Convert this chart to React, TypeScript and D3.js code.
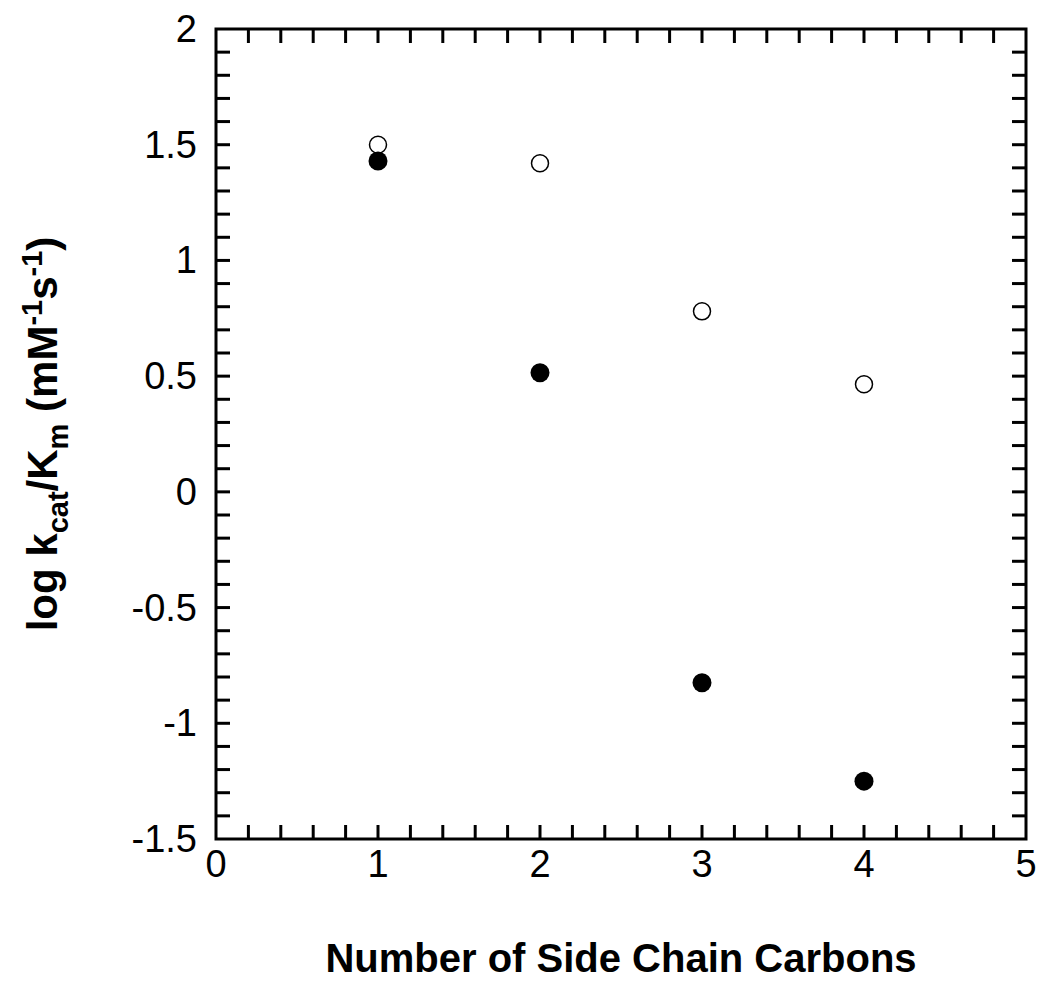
import React from 'react';
import { scaleLinear, range } from 'd3';

// data
const carbons = [1, 2, 3, 4];
const openValues = [1.5, 1.42, 0.78, 0.465];
const filledValues = [1.43, 0.515, -0.825, -1.25];
const xTickLabels = [0, 1, 2, 3, 4, 5];
const yTickLabels = [2, 1.5, 1, 0.5, 0, -0.5, -1, -1.5];

export default function App() {
  const width = 1050;
  const height = 986;
  const margin = { top: 29, right: 24, bottom: 147, left: 216 };
  const innerW = width - margin.left - margin.right;
  const innerH = height - margin.top - margin.bottom;

  const x = scaleLinear().domain([0, 5]).range([margin.left, margin.left + innerW]);
  const y = scaleLinear().domain([-1.5, 2]).range([margin.top + innerH, margin.top]);

  const tickLen = 14;
  const xMinor = range(1, 25).map((i) => i * 0.2);
  const yMinor = range(1, 35).map((i) => -1.5 + i * 0.1);
  const font = 'Liberation Sans, Arial, Helvetica, sans-serif';

  return (
    <svg width={width} height={height} style={{ position: 'absolute', left: 0, top: 0, background: '#fff' }}>
      {/* ticks, inward on all four sides */}
      <g stroke="#000" strokeWidth={3}>
        {xMinor.map((t) => (
          <g key={'x' + t}>
            <line x1={x(t)} x2={x(t)} y1={y(-1.5)} y2={y(-1.5) - tickLen} />
            <line x1={x(t)} x2={x(t)} y1={y(2)} y2={y(2) + tickLen} />
          </g>
        ))}
        {yMinor.map((t) => (
          <g key={'y' + t}>
            <line x1={x(0)} x2={x(0) + tickLen} y1={y(t)} y2={y(t)} />
            <line x1={x(5)} x2={x(5) - tickLen} y1={y(t)} y2={y(t)} />
          </g>
        ))}
      </g>
      <rect x={x(0)} y={y(2)} width={innerW} height={innerH} fill="none" stroke="#000" strokeWidth={3} />

      {/* tick labels */}
      <g fontFamily={font} fontSize={38} fill="#000">
        {xTickLabels.map((t) => (
          <text key={'xl' + t} x={x(t)} y={877} textAnchor="middle">{t}</text>
        ))}
        {yTickLabels.map((t) => (
          <text key={'yl' + t} x={197} y={y(t) + 13} textAnchor="end">{t}</text>
        ))}
      </g>

      {/* points */}
      {carbons.map((c, i) => (
        <circle key={'o' + c} cx={x(c)} cy={y(openValues[i])} r={8.5} fill="#fff" stroke="#000" strokeWidth={1.5} />
      ))}
      {carbons.map((c, i) => (
        <circle key={'f' + c} cx={x(c)} cy={y(filledValues[i])} r={9.5} fill="#000" />
      ))}

      {/* axis titles */}
      <text x={621} y={972} textAnchor="middle" fontFamily={font} fontWeight="bold" fontSize={40}>
        Number of Side Chain Carbons
      </text>
      <text
        transform={`translate(57, ${(y(2) + y(-1.5)) / 2}) rotate(-90)`}
        textAnchor="middle"
        fontFamily={font}
        fontWeight="bold"
        fontSize={42}
      >
        log k<tspan fontSize={29} dy={11}>cat</tspan>
        <tspan dy={-11}>/K</tspan>
        <tspan fontSize={29} dy={11}>m</tspan>
        <tspan dy={-11}> (mM</tspan>
        <tspan fontSize={29} dy={-15}>-1</tspan>
        <tspan dy={15}>s</tspan>
        <tspan fontSize={29} dy={-15}>-1</tspan>
        <tspan dy={15}>)</tspan>
      </text>
    </svg>
  );
}
